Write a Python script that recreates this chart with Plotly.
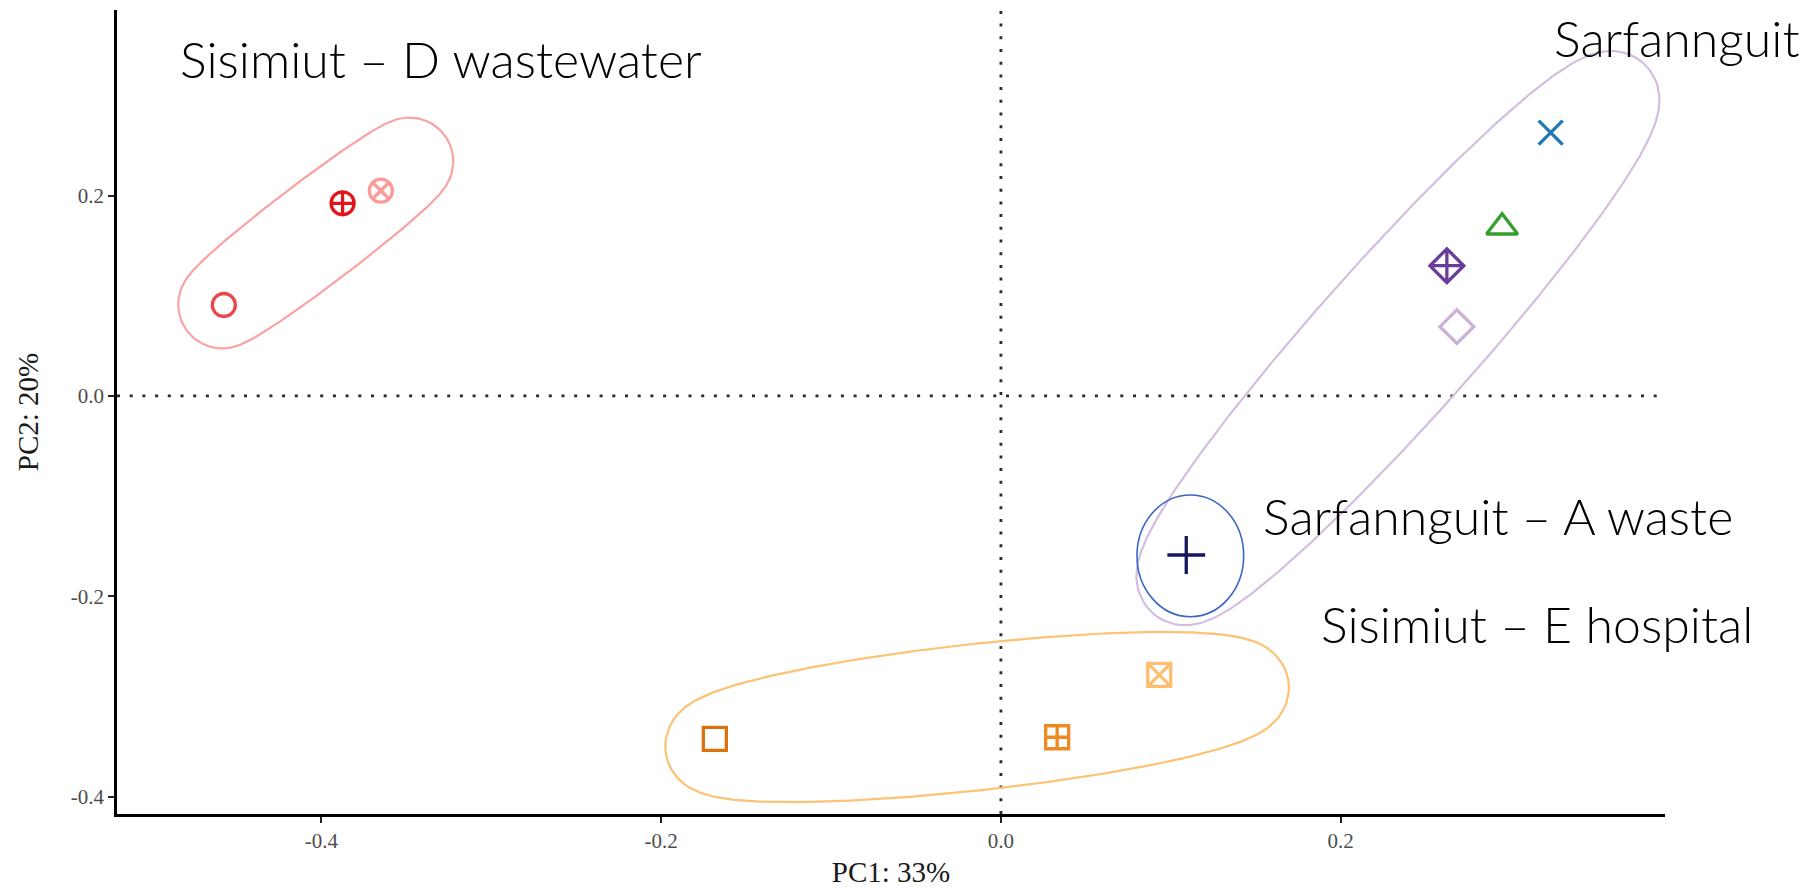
import numpy as np
import plotly.graph_objects as go

# ---------------- data ----------------
sample_ids = ["D1", "D2", "D3", "S1", "S2", "S3", "S4", "A", "E1", "E2", "E3"]
pc1 = [-0.4574, -0.3875, -0.3650, 0.3236, 0.2950, 0.2625, 0.2684, 0.1091, -0.1684, 0.0331, 0.0932]
pc2 = [0.0908, 0.1923, 0.2049, 0.2628, 0.1684, 0.1300, 0.0692, -0.1587, -0.3423, -0.3406, -0.2784]
group = ["D", "D", "D", "S", "S", "S", "S", "S", "E", "E", "E"]
symbols = ["circle-open", "circle-cross-open", "circle-x-open", "x-thin-open",
           "triangle-up-open", "diamond-cross-open", "diamond-open", "cross-thin-open",
           "square-open", "square-cross-open", "square-x-open"]
colors = ["#E8474C", "#E0161A", "#FB9A99", "#1F78B4", "#33A02C", "#6A3D9A",
          "#CAB2D6", "#16165C", "#D9730D", "#EE8A22", "#FDBF6F"]
sizes = [23, 23, 23, 24, 27, 26, 26, 27, 23, 23, 23]

groups = ["D", "S", "E"]
group_colors = ["#F9A3A3", "#D3BEE2", "#FDC274"]

x_ticks = [-0.4, -0.2, 0.0, 0.2]
y_ticks = [-0.4, -0.2, 0.0, 0.2]
x_tick_labels = ["-0.4", "-0.2", "0.0", "0.2"]
y_tick_labels = ["-0.4", "-0.2", "0.0", "0.2"]
x_range = [-0.5203, 0.3909]
y_range = [-0.4172, 0.3852]
x_title = "PC1: 33%"
y_title = "PC2: 20%"

label_texts = ["Sisimiut – D wastewater", "Sarfannguit", "Sarfannguit – A waste", "Sisimiut – E hospital"]
label_x = [-0.4844, 0.3244, 0.1531, 0.1872]
label_y = [0.3368, 0.3568, -0.1198, -0.2275]

highlight_box = [0.0801, 0.1429, -0.2203, -0.0988]  # x0, x1, y0, y1 of the hand-drawn ring

# ---------------- layout geometry ----------------
W, H = 1816, 888
M_L, M_R, M_T, M_B = 117, 151, 10, 74
plot_w = W - M_L - M_R
plot_h = H - M_T - M_B
sx = plot_w / (x_range[1] - x_range[0])
sy = plot_h / (y_range[1] - y_range[0])
EXPAND_PX = 43


def mvee(P, tol=1e-9, it=20000):
    N, d = P.shape
    Q = np.vstack([P.T, np.ones(N)])
    u = np.ones(N) / N
    for _ in range(it):
        X = Q @ np.diag(u) @ Q.T
        M = np.einsum("ij,ji->i", Q.T @ np.linalg.inv(X), Q)
        j = int(np.argmax(M))
        step = (M[j] - d - 1) / ((d + 1) * (M[j] - 1))
        new_u = (1 - step) * u
        new_u[j] += step
        if np.linalg.norm(new_u - u) < tol:
            u = new_u
            break
        u = new_u
    c = P.T @ u
    A = np.linalg.inv(P.T @ np.diag(u) @ P - np.outer(c, c)) / d
    return c, A


def mark_ellipse(xs, ys):
    P = np.column_stack([(np.array(xs) - x_range[0]) * sx, (np.array(ys) - y_range[0]) * sy])
    c, A = mvee(P)
    vals, vecs = np.linalg.eigh(A)
    axes = 1 / np.sqrt(vals)
    t = np.linspace(0, 2 * np.pi, 400)
    local = np.vstack([axes[0] * np.cos(t), axes[1] * np.sin(t)])
    pts = (vecs @ local).T + c
    grad = (A @ (pts - c).T).T
    grad /= np.linalg.norm(grad, axis=1, keepdims=True)
    off = pts + EXPAND_PX * grad
    ex = off[:, 0] / sx + x_range[0]
    ey = off[:, 1] / sy + y_range[0]
    return ex, ey


fig = go.Figure()

for g, gc in zip(groups, group_colors):
    gx = [x for x, gg in zip(pc1, group) if gg == g]
    gy = [y for y, gg in zip(pc2, group) if gg == g]
    ex, ey = mark_ellipse(gx, gy)
    fig.add_trace(go.Scatter(x=ex, y=ey, mode="lines", line=dict(color=gc, width=2.2),
                             hoverinfo="skip", showlegend=False))

for i in range(len(pc1)):
    fig.add_trace(go.Scatter(
        x=[pc1[i]], y=[pc2[i]], mode="markers", name=sample_ids[i], showlegend=False,
        marker=dict(symbol=symbols[i], size=sizes[i], color=colors[i],
                    line=dict(color=colors[i], width=3.3))))

shapes = [
    dict(type="line", xref="x domain", yref="y", x0=0, x1=1, y0=0, y1=0,
         line=dict(color="#2a2a2a", width=2.8, dash="3px,9.7px"), layer="below"),
    dict(type="line", xref="x", yref="y domain", x0=0, x1=0, y0=0, y1=1,
         line=dict(color="#2a2a2a", width=2.8, dash="3px,9.7px"), layer="below"),
    dict(type="circle", xref="x", yref="y", x0=highlight_box[0], x1=highlight_box[1],
         y0=highlight_box[2], y1=highlight_box[3], line=dict(color="#3A68C4", width=1.6)),
]

annotations = []
for txt, lx, ly in zip(label_texts, label_x, label_y):
    annotations.append(dict(x=lx, y=ly, xref="x", yref="y", text=txt, showarrow=False,
                            xanchor="left", yanchor="middle",
                            font=dict(family="Lato", size=50, color="#000000", weight=300)))

fig.update_layout(
    width=W, height=H, autosize=False,
    margin=dict(l=M_L, r=M_R, t=M_T, b=M_B, pad=0, autoexpand=False),
    paper_bgcolor="white", plot_bgcolor="white",
    shapes=shapes, annotations=annotations,
    xaxis=dict(range=x_range, tickvals=x_ticks, ticktext=x_tick_labels, showgrid=False,
               zeroline=False, showline=True, linecolor="black", linewidth=3, ticks="outside",
               ticklen=6, tickwidth=1.6, tickcolor="#222", automargin=False,
               tickfont=dict(family="Liberation Serif", size=21, color="#4D4D4D"),
               title=dict(text=x_title, standoff=11,
                          font=dict(family="Liberation Serif", size=29, color="#1a1a1a"))),
    yaxis=dict(range=y_range, tickvals=y_ticks, ticktext=y_tick_labels, showgrid=False,
               zeroline=False, showline=True, linecolor="black", linewidth=2.6, ticks="outside",
               ticklen=6, tickwidth=1.6, tickcolor="#222", automargin=False,
               tickfont=dict(family="Liberation Serif", size=21, color="#4D4D4D"),
               title=dict(text=y_title, standoff=24,
                          font=dict(family="Liberation Serif", size=29, color="#1a1a1a"))),
)

fig.write_html("out.html", config={"displayModeBar": False},
               post_script="document.body.style.margin='0';document.body.style.overflow='hidden';")
